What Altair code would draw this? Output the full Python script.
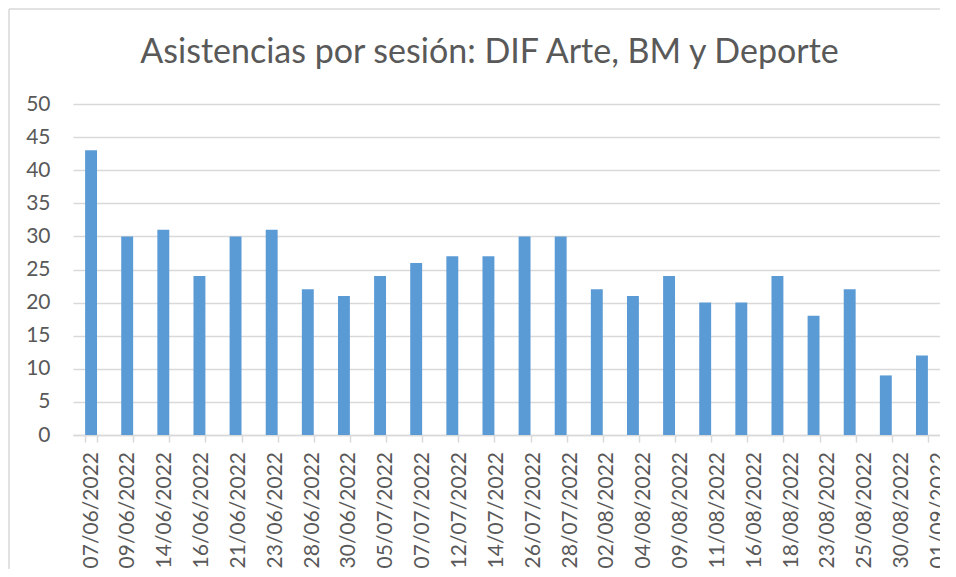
import altair as alt
import pandas as pd

# ---- data ----
fechas = [
    "07/06/2022", "09/06/2022", "14/06/2022", "16/06/2022", "21/06/2022", "23/06/2022",
    "28/06/2022", "30/06/2022", "05/07/2022", "07/07/2022", "12/07/2022", "14/07/2022",
    "26/07/2022", "28/07/2022", "02/08/2022", "04/08/2022", "09/08/2022", "11/08/2022",
    "16/08/2022", "18/08/2022", "23/08/2022", "25/08/2022", "30/08/2022", "01/09/2022",
]
asistencias = [43, 30, 31, 24, 30, 31, 22, 21, 24, 26, 27, 27,
               30, 30, 22, 21, 24, 20, 20, 24, 18, 22, 9, 12]
y_ticks = [0, 5, 10, 15, 20, 25, 30, 35, 40, 45, 50]
titulo = ["Asistencias por sesión: DIF Arte, BM y Deporte"]

df = pd.DataFrame({"fecha": fechas, "asistencias": asistencias, "idx": list(range(len(fechas)))})
df_title = pd.DataFrame({"t": titulo})
df_one = pd.DataFrame({"a": [0]})

W, H = 867, 331
FONT = "Lato"
GRAY = "#595959"
LINE = "#d9d9d9"
BLUE = "#5b9bd5"

x_enc = alt.X(
    "fecha:N",
    sort=fechas,
    scale=alt.Scale(paddingInner=0.67, paddingOuter=0.335),
    axis=alt.Axis(
        title=None, labels=False, ticks=True, tickBand="extent", tickSize=7,
        tickColor=LINE, tickWidth=1.5, domainColor=LINE, domainWidth=1.5, grid=False,
    ),
)
y_enc = alt.Y(
    "asistencias:Q",
    scale=alt.Scale(domain=[0, 50], nice=False),
    axis=alt.Axis(
        title=None, values=y_ticks, ticks=False, tickSize=0, domain=False, grid=True,
        gridColor=LINE, gridWidth=1.6, labelFont=FONT, labelFontSize=21,
        labelColor=GRAY, labelPadding=23,
    ),
)

bars = alt.Chart(df).mark_bar(color=BLUE).encode(x=x_enc, y=y_enc)

xlabels = alt.Chart(df).mark_text(
    angle=270, align="right", baseline="middle", font=FONT, fontSize=21, color=GRAY,
    dy=alt.ExprRef("0.5 + 0.72 * datum.idx"),
).encode(x=x_enc, y=alt.value(H + 17), text="fecha:N")

title = alt.Chart(df_title).mark_text(
    font=FONT, fontSize=34, color=GRAY, align="center", baseline="alphabetic",
).encode(x=alt.value(416.5), y=alt.value(-41), text="t:N")

border_left = alt.Chart(df_one).mark_rule(color=LINE, strokeWidth=1.5).encode(
    x=alt.value(-64), y=alt.value(-95), y2=alt.value(H + 140)
)
border_top = alt.Chart(df_one).mark_rule(color=LINE, strokeWidth=1.5).encode(
    y=alt.value(-95), x=alt.value(-64), x2=alt.value(W + 20)
)

chart = (
    alt.layer(bars, xlabels, title, border_left, border_top)
    .properties(
        width=W, height=H,
        padding={"left": 65, "top": 96, "right": 0, "bottom": 134},
        autosize=alt.AutoSizeParams(type="none"),
    )
    .configure_view(stroke=None)
)

chart.save("out.html", embed_options={"renderer": "svg", "actions": False})
